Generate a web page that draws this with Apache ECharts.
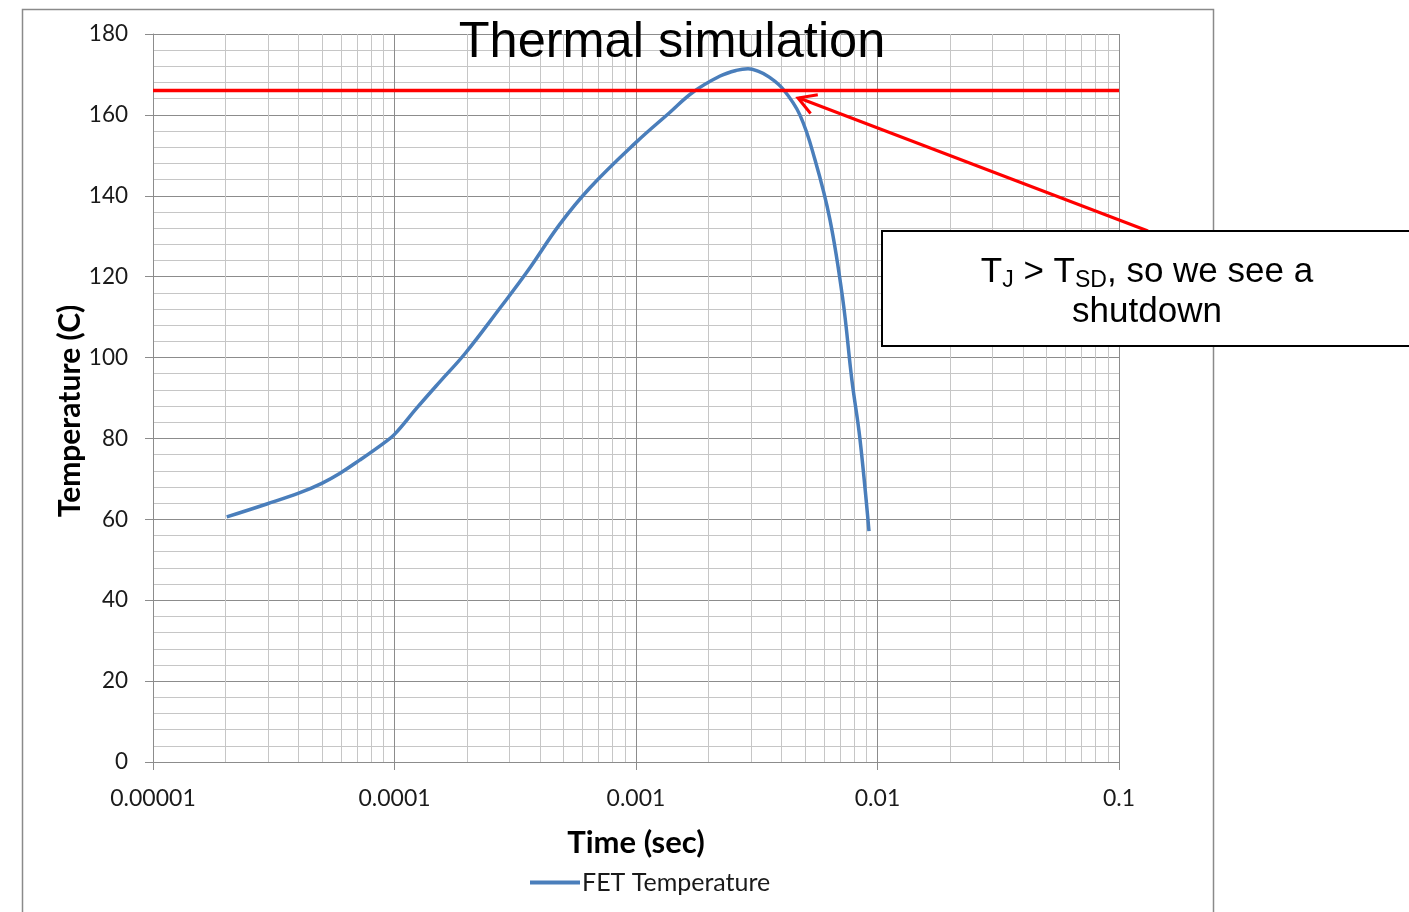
<!DOCTYPE html>
<html><head><meta charset="utf-8">
<script src="https://cdn.jsdelivr.net/npm/echarts@6/dist/echarts.min.js"></script>
<style>html,body{margin:0;padding:0;background:#fff}#c{width:1409px;height:912px}</style>
</head><body><div id="c"></div>
<script>
// ---- data ----
const timeSec = [2.02e-5, 2.96e-5, 4.06e-5, 5.0e-5, 5.95e-5, 7.2e-5, 9.0e-5, 1.0e-4, 1.24e-4, 1.54e-4,
  1.96e-4, 2.74e-4, 3.54e-4, 4.84e-4, 6.45e-4, 1.0e-3, 1.38e-3, 1.72e-3, 2.23e-3, 2.6e-3, 2.91e-3,
  3.2e-3, 3.55e-3, 4.06e-3, 4.77e-3, 5.51e-3, 6.36e-3, 7.19e-3, 7.83e-3, 8.45e-3, 9.22e-3];
const fetTemp = [60.6, 63.8, 66.6, 68.9, 71.4, 74.7, 78.8, 81.0, 87.6, 94.0,
  101.0, 112.3, 121.2, 133.0, 142.0, 153.2, 160.6, 165.6, 169.6, 171.0, 171.4,
  170.8, 169.4, 166.4, 160.0, 148.9, 134.0, 114.2, 94.5, 80.1, 57.1];
const thresholdTemp = 166;
const thresholdRange = [0.00001, 0.1];
const xTickValues = [0.00001, 0.0001, 0.001, 0.01, 0.1];
const xTickLabels = ['0.00001', '0.0001', '0.001', '0.01', '0.1'];
const minorMultipliers = [2, 3, 4, 5, 6, 7, 8, 9];
const yRange = [0, 180];

const minorTimes = [];
xTickValues.slice(0, -1).forEach(d => minorMultipliers.forEach(m => minorTimes.push(d * m)));

const chart = echarts.init(document.getElementById('c'), null, {renderer: 'canvas'});
const tickFont = 'Lato, "Open Sans", sans-serif';
const MAJOR = '#8c8c8c', MINOR = '#c6c6c6';

chart.setOption({
  animation: false,
  backgroundColor: '#fff',
  grid: {left: 153, right: 290, top: 34, bottom: 150},
  legend: {
    data: ['FET Temperature'], left: 530, top: 870, icon: 'rect', padding: 0,
    itemWidth: 50, itemHeight: 4, itemGap: 10,
    textStyle: {fontFamily: tickFont, fontSize: 25, color: '#1a1a1a', padding: [0, 0, 0, -3]}
  },
  xAxis: {
    type: 'log', logBase: 10, min: 0.00001, max: 0.1,
    name: 'Time (sec)', nameLocation: 'middle', nameGap: 65,
    nameTextStyle: {fontFamily: tickFont, fontWeight: 'bold', fontSize: 31, color: '#000'},
    axisLine: {show: true, lineStyle: {color: MAJOR, width: 1}},
    axisTick: {show: true, length: 8, lineStyle: {color: MAJOR}},
    splitLine: {show: true, lineStyle: {color: MAJOR, width: 1}},
    axisLabel: {
      margin: 25, fontFamily: tickFont, fontSize: 23, color: '#1a1a1a',
      formatter: v => {
        const i = xTickValues.findIndex(t => Math.abs(Math.log10(t) - Math.log10(v)) < 1e-6);
        return i >= 0 ? xTickLabels[i] : '';
      }
    }
  },
  yAxis: {
    type: 'value', min: yRange[0], max: yRange[1], interval: 20,
    name: 'Temperature (C)', nameLocation: 'middle', nameGap: 68, nameMoveOverlap: false,
    nameTextStyle: {fontFamily: tickFont, fontWeight: 'bold', fontSize: 30, color: '#000', padding: [0, 26, 0, 0]},
    axisLine: {show: true, lineStyle: {color: MAJOR, width: 1}},
    axisTick: {show: true, length: 8, lineStyle: {color: MAJOR}},
    splitLine: {show: true, lineStyle: {color: MAJOR, width: 1}},
    minorTick: {show: false, splitNumber: 5},
    minorSplitLine: {show: true, lineStyle: {color: MINOR, width: 1}},
    axisLabel: {margin: 25, fontFamily: tickFont, fontSize: 22.5, color: '#1a1a1a'}
  },
  series: [
    {
      name: 'minorGrid', type: 'lines', coordinateSystem: 'cartesian2d', z: 1, silent: true,
      polyline: false, symbol: ['none', 'none'],
      lineStyle: {color: MINOR, width: 1, opacity: 1},
      data: minorTimes.map(t => ({coords: [[t, yRange[0]], [t, yRange[1]]]}))
    },
    {
      name: 'FET Temperature', type: 'line', z: 3,
      data: timeSec.map((t, i) => [t, fetTemp[i]]),
      symbol: 'none', smooth: 0.4,
      lineStyle: {color: '#4a7ebb', width: 3.5}, itemStyle: {color: '#4a7ebb'}
    },
    {
      name: 'TSD', type: 'line', z: 4, silent: true,
      data: thresholdRange.map(t => [t, thresholdTemp]),
      symbol: 'none', lineStyle: {color: '#ff0000', width: 3.5}, itemStyle: {color: '#ff0000'}
    }
  ],
  graphic: [
    {type: 'rect', z: 0, silent: true, shape: {x: 22.5, y: 9.5, width: 1191, height: 950},
      style: {fill: 'none', stroke: '#8a8a8a', lineWidth: 1.5}},
    {type: 'text', z: 10, x: 672, y: 43, silent: true,
      style: {text: 'Thermal simulation', font: '50.5px "Liberation Sans", Arial, sans-serif', fill: '#000',
        textAlign: 'center', textVerticalAlign: 'middle'}},
    {type: 'polyline', z: 10, silent: true, shape: {points: [[1148, 231], [799, 98]]},
      style: {stroke: '#ff0000', lineWidth: 3, fill: 'none'}},
    {type: 'polyline', z: 10, silent: true, shape: {points: [[810.6, 113.5], [798, 98], [817.8, 94.8]]},
      style: {stroke: '#ff0000', lineWidth: 3, fill: 'none'}},
    {type: 'rect', z: 11, silent: true, shape: {x: 882, y: 231, width: 560, height: 115},
      style: {fill: '#fff', stroke: '#000', lineWidth: 2}},
    {type: 'text', z: 12, x: 1147, y: 272, silent: true,
      style: {
        text: '{a|T}{s|J}{a| > T}{s|SD}{a|, so we see a}',
        textAlign: 'center', textVerticalAlign: 'middle', fill: '#000',
        rich: {
          a: {font: '35px "Liberation Sans", Arial, sans-serif', fill: '#000', lineHeight: 40},
          s: {font: '23px "Liberation Sans", Arial, sans-serif', fill: '#000', lineHeight: 23, verticalAlign: 'bottom'}
        }
      }},
    {type: 'text', z: 12, x: 1147, y: 312, silent: true,
      style: {text: 'shutdown', font: '35px "Liberation Sans", Arial, sans-serif', fill: '#000',
        textAlign: 'center', textVerticalAlign: 'middle'}}
  ]
});
</script>
</body></html>
